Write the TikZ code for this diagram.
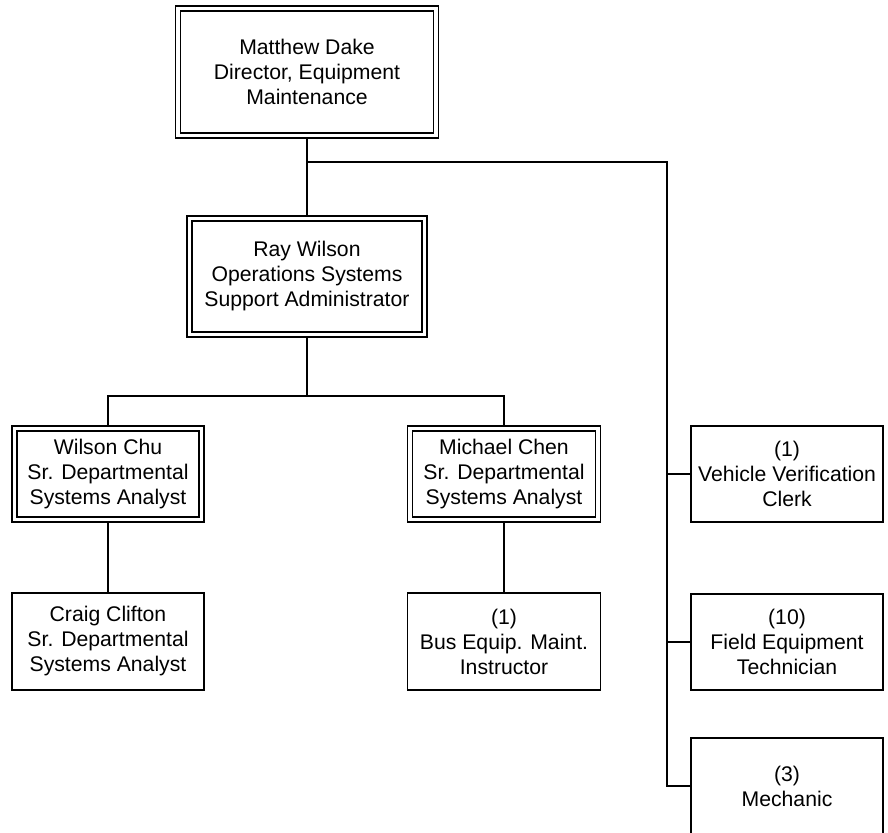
\documentclass[tikz,border=0pt]{standalone}
\usepackage{fontspec}
\setmainfont{Liberation Sans}
\begin{document}
\begin{tikzpicture}[x=1pt,y=-1pt,
  every node/.style={font=\fontsize{21.2}{25}\selectfont, align=center, inner sep=0pt},
  dbox/.style={draw, line width=1.4pt, double, double distance=3.6pt, outer sep=2.5pt},
  sbox/.style={draw, line width=1.5pt, outer sep=0pt},
  conn/.style={line width=1.6pt}]
\useasboundingbox (0,0) rectangle (888,832);
% double-bordered boxes (path at mid of the two lines)
\node[dbox, minimum width=258pt, minimum height=127pt] (md) at (307,72) {Matthew Dake\\Director, Equipment\\Maintenance};
\node[dbox, minimum width=235pt, minimum height=116pt] (rw) at (307,276.5) {Ray Wilson\\Operations Systems\\Support Administrator};
\node[dbox, minimum width=187pt, minimum height=91pt] (wc) at (108,474) {Wilson Chu\\Sr. Departmental\\Systems Analyst};
\node[dbox, minimum width=188pt, minimum height=91pt] (mc) at (504,474) {Michael Chen\\Sr. Departmental\\Systems Analyst};
% single-bordered boxes
\node[sbox, minimum width=192pt, minimum height=97pt] (cc) at (108,641.5) {Craig Clifton\\Sr. Departmental\\Systems Analyst};
\node[sbox, minimum width=193pt, minimum height=97pt] (bus) at (504,641.5) {(1)\\Bus Equip. Maint.\\Instructor};
\node[sbox, minimum width=192pt, minimum height=96pt] (vv) at (787,474) {(1)\\Vehicle Verification\\Clerk};
\node[sbox, minimum width=192pt, minimum height=96pt] (fe) at (787,642) {(10)\\Field Equipment\\Technician};
\node[sbox, minimum width=192pt, minimum height=96pt] (mech) at (787,786) {(3)\\Mechanic};
% connector coordinates
\coordinate (trunkTop) at (667,162);
\coordinate (trunkBot) at (667,786);
\coordinate (bar) at (0,396);
% connectors
\draw[conn] (md.south) -- (rw.north);
\draw[conn] (md.south |- trunkTop) -- (trunkTop) -- (trunkBot) -- (mech.west);
\draw[conn] (trunkTop |- vv.west) -- (vv.west);
\draw[conn] (trunkTop |- fe.west) -- (fe.west);
\draw[conn] (rw.south) -- (rw.south |- bar);
\draw[conn] (wc.north) -- (wc.north |- bar) -- (mc.north |- bar) -- (mc.north);
\draw[conn] (wc.south) -- (cc.north);
\draw[conn] (mc.south) -- (bus.north);
\end{tikzpicture}
\end{document}
